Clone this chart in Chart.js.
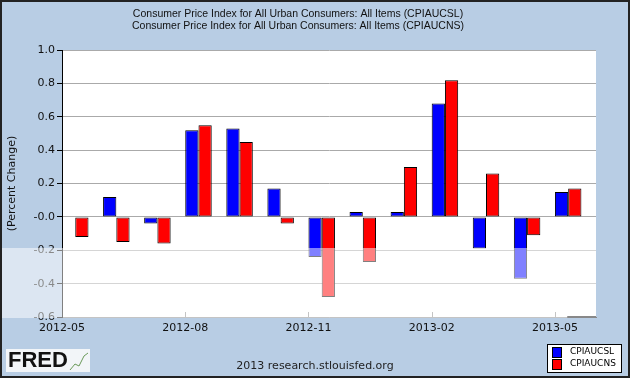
<!DOCTYPE html>
<html>
<head>
<meta charset="utf-8">
<script src="https://cdn.jsdelivr.net/npm/chart.js@4/dist/chart.umd.min.js"></script>
<style>
  html, body { margin: 0; padding: 0; background: #b8cde4; }
  #wrap { width: 630px; height: 378px; position: relative; }
</style>
</head>
<body>
<div id="wrap"><canvas id="c" width="630" height="378"></canvas></div>
<script>
// ---- data ----
const months = ['2012-05','2012-06','2012-07','2012-08','2012-09','2012-10','2012-11',
                '2012-12','2013-01','2013-02','2013-03','2013-04','2013-05'];
const cpiaucsl = [null, 0.12, -0.04, 0.52, 0.53, 0.17, -0.24, 0.03, 0.03, 0.68, -0.19, -0.37, 0.15];
const cpiaucns = [-0.12, -0.15, -0.16, 0.55, 0.45, -0.04, -0.48, -0.27, 0.30, 0.82, 0.26, -0.11, 0.17];
const titleLines = ['Consumer Price Index for All Urban Consumers: All Items (CPIAUCSL)',
                    'Consumer Price Index for All Urban Consumers: All Items (CPIAUCNS)'];
const seriesNames = ['CPIAUCSL', 'CPIAUCNS'];
const yTitle = '(Percent Change)';
const footerText = '2013 research.stlouisfed.org';

const GROUP = 0.645; // fraction of month occupied by the bar pair (left-aligned)
const toPoints = arr => arr.map((v, i) => ({ x: i + GROUP / 2, y: v }));

const bgPlugin = {
  id: 'bg',
  beforeDraw(chart) {
    const ctx = chart.ctx;
    ctx.save();
    ctx.fillStyle = '#b8cde4';
    ctx.fillRect(0, 0, chart.width, chart.height);
    const a = chart.chartArea;
    ctx.fillStyle = '#ffffff';
    ctx.fillRect(a.left, a.top, a.right - a.left, a.bottom - a.top);
    ctx.restore();
  },
  afterDraw(chart) {
    const ctx = chart.ctx;
    const a = chart.chartArea;
    const xs = chart.scales.x;
    ctx.save();
    // small inward ticks on x axis
    ctx.strokeStyle = '#888';
    ctx.lineWidth = 1;
    for (let v = 3; v <= 12; v += 3) {
      const px = Math.round(xs.getPixelForValue(v)) + 0.5;
      ctx.beginPath(); ctx.moveTo(px, a.bottom); ctx.lineTo(px, a.bottom - 5); ctx.stroke();
    }
    // dark segment at bottom right of the axis
    ctx.strokeStyle = '#111';
    ctx.lineWidth = 2;
    ctx.beginPath(); ctx.moveTo(xs.getPixelForValue(12.3), a.bottom); ctx.lineTo(a.right, a.bottom); ctx.stroke();
    ctx.lineWidth = 1;
    // watermark band
    ctx.fillStyle = 'rgba(255,255,255,0.5)';
    ctx.fillRect(0, 248, a.right, 70);
    // legend box
    ctx.fillStyle = '#ffffff';
    ctx.fillRect(547, 344, 74, 28);
    ctx.strokeStyle = '#000';
    ctx.strokeRect(547.5, 344.5, 74, 28);
    const cols = ['#0000ff', '#ff0000'];
    ctx.font = '9px "DejaVu Sans"';
    ctx.textBaseline = 'middle';
    ctx.textAlign = 'left';
    for (let i = 0; i < 2; i++) {
      ctx.fillStyle = cols[i];
      ctx.fillRect(552, 347 + i * 12, 9, 10);
      ctx.strokeStyle = '#000';
      ctx.strokeRect(552.5, 347.5 + i * 12, 9, 10);
      ctx.fillStyle = '#000';
      ctx.fillText(seriesNames[i], 570, 352 + i * 12);
    }
    // FRED logo
    ctx.fillStyle = '#f2f5f8';
    ctx.fillRect(6, 349, 84, 23);
    ctx.fillStyle = '#111';
    ctx.font = 'bold 22px "Liberation Sans"';
    ctx.textBaseline = 'middle';
    ctx.fillText('FRED', 8, 361);
    ctx.strokeStyle = '#6a9a5a';
    ctx.beginPath();
    ctx.moveTo(70, 370); ctx.lineTo(75, 364); ctx.lineTo(79, 366); ctx.lineTo(84, 356); ctx.lineTo(88, 353);
    ctx.stroke();
    // footer
    ctx.fillStyle = '#222';
    ctx.font = '11px "DejaVu Sans"';
    ctx.textAlign = 'center';
    ctx.fillText(footerText, 315, 366);
    // outer border
    ctx.strokeStyle = '#222';
    ctx.lineWidth = 2;
    ctx.strokeRect(1, 1, chart.width - 2, chart.height - 2);
    ctx.restore();
  }
};

new Chart(document.getElementById('c'), {
  type: 'bar',
  data: {
    datasets: [
      { label: seriesNames[0], data: toPoints(cpiaucsl), backgroundColor: '#0000ff',
        borderColor: '#000', borderWidth: 1, borderSkipped: false },
      { label: seriesNames[1], data: toPoints(cpiaucns), backgroundColor: '#ff0000',
        borderColor: '#000', borderWidth: 1, borderSkipped: false }
    ]
  },
  options: {
    responsive: false,
    animation: false,
    devicePixelRatio: 1,
    layout: { padding: { left: 0, right: 34, top: 0, bottom: 0 } },
    datasets: { bar: { categoryPercentage: GROUP, barPercentage: 1 } },
    plugins: {
      legend: { display: false },
      tooltip: { enabled: false },
      title: {
        display: true,
        text: titleLines,
        color: '#111',
        font: { family: '"Liberation Sans"', size: 10.5, weight: 'normal', lineHeight: 1.15 },
        padding: { top: 8, bottom: 18 }
      }
    },
    scales: {
      x: {
        type: 'linear',
        offset: false,
        min: 0, max: 13,
        afterFit: s => { s.height = 61; },
        grid: { display: false, drawTicks: false, offset: false },
        border: { display: true, color: '#888', width: 1 },
        ticks: {
          stepSize: 3,
          autoSkip: false,
          maxRotation: 0,
          padding: 5,
          color: '#111',
          font: { family: '"DejaVu Sans"', size: 11 },
          callback: v => (Number.isInteger(v) && v < months.length) ? months[v] : ''
        }
      },
      y: {
        min: -0.6, max: 1.0,
        afterFit: s => { s.width = 62; },
        grid: { color: '#aaaaaa', tickColor: '#000', tickLength: 5, drawTicks: true },
        border: { display: true, color: '#000', width: 1 },
        ticks: {
          stepSize: 0.2,
          padding: 2,
          color: '#111',
          font: { family: '"DejaVu Sans"', size: 11 },
          callback: v => Math.abs(v) < 1e-9 ? '-0.0' : v.toFixed(1)
        },
        title: {
          display: true,
          text: yTitle,
          color: '#111',
          font: { family: '"DejaVu Sans"', size: 11 },
          padding: { top: 6, bottom: 0 }
        }
      }
    }
  },
  plugins: [bgPlugin]
});
</script>
</body>
</html>
